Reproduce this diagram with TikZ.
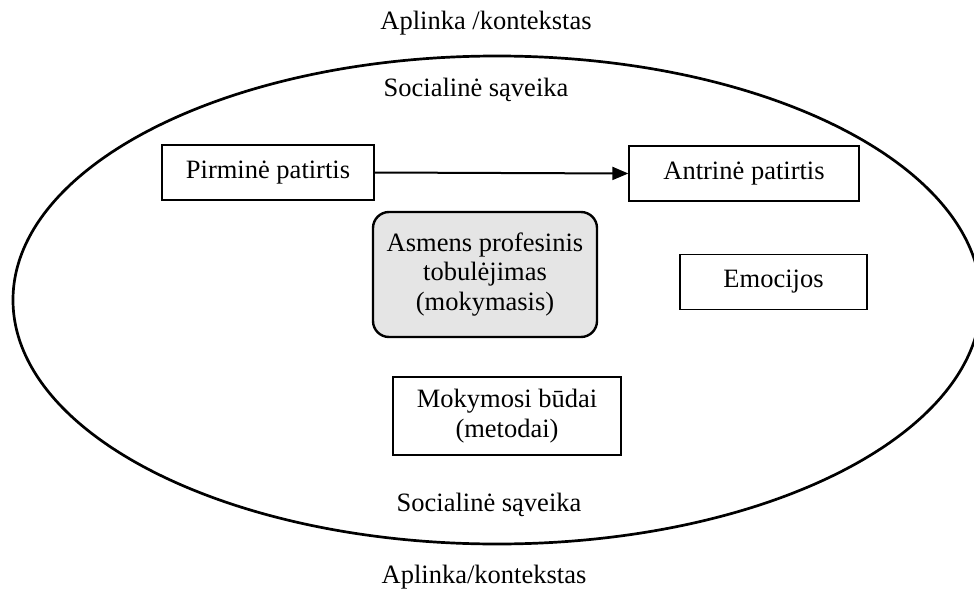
\documentclass[tikz,border=0pt]{standalone}
\usepackage{fontspec}
\setmainfont{Liberation Serif}
\usetikzlibrary{arrows.meta}
\begin{document}
\begin{tikzpicture}[x=1pt,y=-1pt,
  every node/.style={font=\fontsize{26.5}{29.5}\selectfont, inner sep=0pt},
  plainbox/.style={draw, line width=1.3pt, align=center},
  corebox/.style={draw, line width=2.4pt, rounded corners=16pt, fill=black!10, align=center},
  label/.style={},
  flow/.style={line width=2pt, -{Triangle[length=16pt,width=13pt]}}]
\useasboundingbox (0,0) rectangle (974,594);

% outer environment ring
\draw[line width=2.7pt] (497,300) ellipse [x radius=484, y radius=244];

% context and interaction labels
\node[label] (ctxTop) at (486,23) {Aplinka /kontekstas};
\node[label] (socTop) at (476,90) {Socialinė sąveika};
\node[label] (socBot) at (489,505) {Socialinė sąveika};
\node[label] (ctxBot) at (484,577) {Aplinka/kontekstas};

% experience boxes
\node[plainbox, minimum width=212, minimum height=55] (prim) at (268,172.5) {Pirminė patirtis};
\node[plainbox, minimum width=230, minimum height=55] (sec) at (744,173.5) {Antrinė patirtis};

% central learning box
\node[corebox, minimum width=224, minimum height=125] (core) at (485,274.5)
  {Asmens profesinis\\tobulėjimas\\(mokymasis)};

\node[plainbox, minimum width=187, minimum height=55] (emo) at (773.5,282) {Emocijos};
\node[plainbox, minimum width=228, minimum height=78] (ways) at (507,416)
  {Mokymosi būdai\\(metodai)};

\draw[flow] (prim.east) -- (sec.west);
\end{tikzpicture}
\end{document}
